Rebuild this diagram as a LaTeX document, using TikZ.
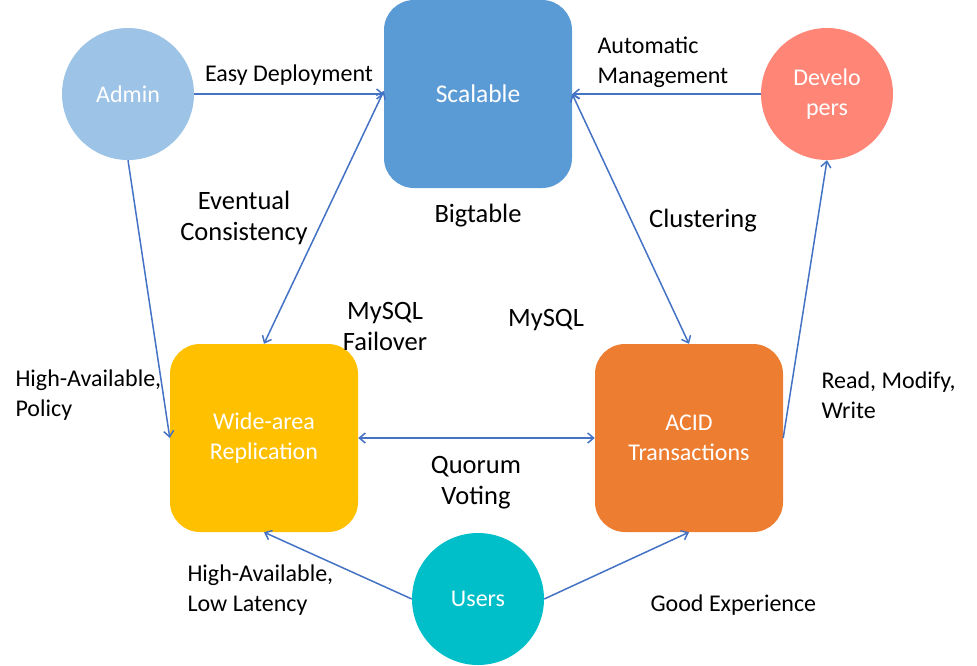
\documentclass[tikz,border=0pt]{standalone}
\usepackage{fontspec}
\setmainfont{Carlito}
\usetikzlibrary{arrows.meta}
\definecolor{admincol}{HTML}{9DC3E6}
\definecolor{scalecol}{HTML}{5B9BD5}
\definecolor{devcol}{HTML}{FF8576}
\definecolor{widecol}{HTML}{FFC000}
\definecolor{acidcol}{HTML}{ED7D31}
\definecolor{usercol}{HTML}{00BFC8}
\definecolor{linkcol}{HTML}{4472C4}
\begin{document}
\begin{tikzpicture}[x=1pt,y=-1pt,
  every node/.style={font=\fontsize{24}{30}\selectfont},
  big/.style={font=\fontsize{26.5}{31}\selectfont,align=center},
  circ/.style={circle,minimum size=132,inner sep=0pt,text=white,align=center},
  box/.style={rectangle,rounded corners=30,minimum width=188,minimum height=188,inner sep=0pt,text=white,align=center},
  link/.style={draw=linkcol,line width=1.5pt,-{Straight Barb[length=6,width=10]}},
  blink/.style={link,{Straight Barb[length=6,width=10]}-{Straight Barb[length=6,width=10]}}]
\useasboundingbox (0,0) rectangle (977,665);
\node [circ,fill=admincol] (admin) at (128,94) {Admin};
\node [box,fill=scalecol,font=\fontsize{25.5}{30}\selectfont] (scal) at (478,94) {Scalable};
\node [circ,fill=devcol] (dev) at (827,94) {Develo\\pers};
\node [box,fill=widecol] (wide) at (264,438) {Wide-area\\Replication};
\node [box,fill=acidcol] (acid) at (689,438) {ACID\\Transactions};
\node [circ,fill=usercol] (users) at (478,599) {Users};
\draw [link] (admin.east) -- (scal.west);
\draw [link] (dev.west) -- (scal.east);
\draw [blink] ([yshift=3]scal.west) -- (wide.north);
\draw [blink] (scal.east) -- (acid.north);
\draw [link] (admin.south) -- (wide.west);
\draw [link] (acid.east) -- (dev.south);
\draw [blink] (wide.east) -- (acid.west);
\draw [link] (users.west) -- (wide.south);
\draw [link] (users.east) -- (acid.south);
\node (easy) at (289,75) {Easy Deployment};
\node [anchor=west,align=left] (auto) at (594,62) {Automatic\\Management};
\node [big] (event) at (244,218) {Eventual\\Consistency};
\node [big] (big) at (478,216) {Bigtable};
\node [big] (clus) at (703,221) {Clustering};
\node [big] (fail) at (385,326) {MySQL\\Failover};
\node [big] (mysql) at (546,320) {MySQL};
\node [anchor=west,align=left] (policy) at (12,395) {High-Available,\\Policy};
\node [anchor=west,align=left] (rmw) at (818,395) {Read, Modify,\\Write};
\node [big] (quorum) at (476,483) {Quorum\\Voting};
\node [anchor=west,align=left] (latency) at (184,590) {High-Available,\\Low Latency};
\node [anchor=west] (good) at (647,605) {Good Experience};
\end{tikzpicture}
\end{document}
